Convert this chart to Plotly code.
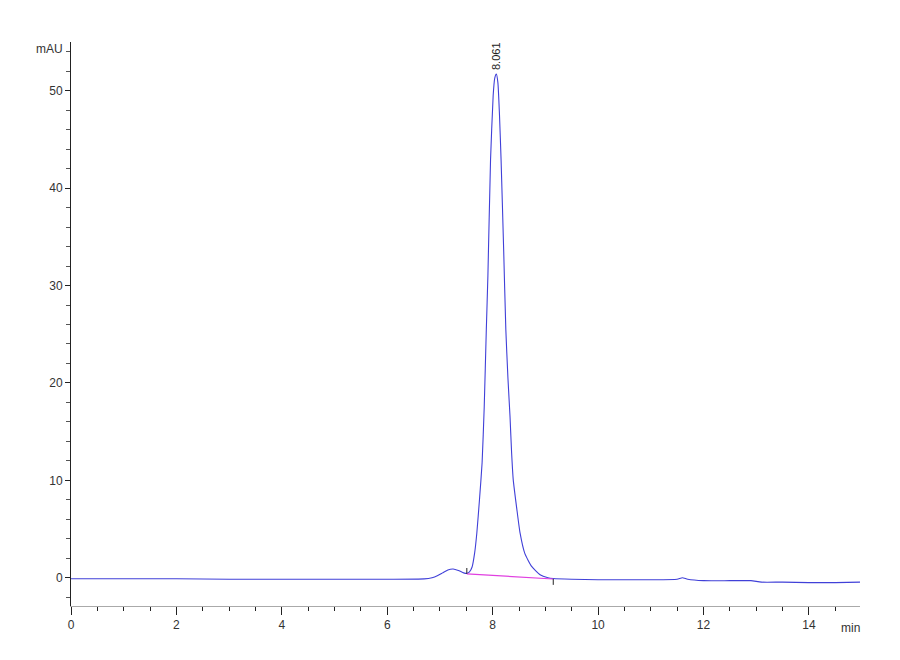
import plotly.graph_objects as go

# retention time (min) and detector signal (mAU)
time_min = [0, 1, 2, 3, 4, 5, 6, 6.7, 6.85, 6.95, 7.05, 7.15, 7.25, 7.35, 7.45, 7.51,
            7.56, 7.61, 7.66, 7.70, 7.75, 7.80, 7.84, 7.88, 7.91, 7.96, 8.01, 8.04,
            8.07, 8.10, 8.13, 8.16, 8.21, 8.25, 8.29, 8.33, 8.36, 8.39, 8.46, 8.52,
            8.61, 8.74, 8.90, 9.05, 9.15, 9.5, 10, 10.5, 11, 11.5, 11.6, 11.7, 12,
            12.5, 12.9, 13.1, 13.5, 14, 14.5, 14.97]
signal_mau = [-0.1, -0.1, -0.1, -0.15, -0.15, -0.15, -0.15, -0.12, 0.0, 0.2, 0.5, 0.8,
              0.9, 0.75, 0.5, 0.45, 0.6, 1.1, 2.6, 4.6, 8.0, 11.8, 17.5, 25.5, 31.0,
              42.9, 49.5, 51.3, 51.7, 50.8, 47.5, 42.9, 33.5, 25.5, 20.5, 16.5, 12.8,
              10.1, 7.0, 4.6, 2.5, 1.16, 0.3, 0.0, -0.08, -0.15, -0.2, -0.2, -0.2,
              -0.15, 0.0, -0.15, -0.3, -0.3, -0.3, -0.45, -0.45, -0.5, -0.5, -0.45]

# integration baseline of the main peak
base_time = [7.51, 9.15]
base_mau = [0.4, -0.13]

peak_rt = 8.061
peak_height = 51.7

font_main = "Liberation Sans Narrow, Liberation Sans, Arial"

fig = go.Figure()

fig.add_trace(go.Scatter(
    x=time_min, y=signal_mau, mode="lines",
    line=dict(color="#4040d8", width=1.1, shape="spline", smoothing=0.5),
    hoverinfo="skip"
))

fig.add_trace(go.Scatter(
    x=base_time, y=base_mau, mode="lines",
    line=dict(color="#e040e0", width=1.2),
    hoverinfo="skip"
))

# small start / end markers of the integration
fig.add_trace(go.Scatter(
    x=[base_time[0], base_time[0], None, base_time[1], base_time[1]],
    y=[base_mau[0], base_mau[0] + 0.6, None, base_mau[1], base_mau[1] - 0.6],
    mode="lines", line=dict(color="#222222", width=1),
    hoverinfo="skip"
))

fig.add_annotation(
    x=peak_rt, y=peak_height, text=str(peak_rt), textangle=-90,
    showarrow=False, xanchor="center", yanchor="bottom", yshift=2,
    font=dict(family=font_main, size=11, color="#222222")
)

fig.add_annotation(
    x=0, xref="paper", y=54.3, text="mAU", showarrow=False,
    xanchor="right", xshift=-6, yanchor="middle",
    font=dict(family=font_main, size=12, color="#333333")
)

fig.add_annotation(
    x=1, xref="paper", y=0, yref="paper", text="min", showarrow=False,
    xanchor="right", yanchor="top", yshift=-13, xshift=2,
    font=dict(family=font_main, size=12, color="#333333")
)

fig.update_xaxes(
    range=[0, 14.97], dtick=2, tick0=0, showgrid=False, zeroline=False,
    showline=True, linecolor="#aaaaaa", linewidth=1,
    ticks="outside", ticklen=8, tickcolor="#222222", tickwidth=1,
    minor=dict(dtick=0.5, ticks="outside", ticklen=4, tickcolor="#222222", showgrid=False),
    tickfont=dict(family=font_main, size=12, color="#333333")
)

fig.update_yaxes(
    range=[-2.9, 55], dtick=10, tick0=0, showgrid=False, zeroline=False,
    showline=True, linecolor="#222222", linewidth=1,
    ticks="outside", ticklen=5, tickcolor="#222222", tickwidth=1,
    minor=dict(dtick=2, ticks="outside", ticklen=4, tickcolor="#555555", showgrid=False),
    tickfont=dict(family=font_main, size=12, color="#333333")
)

# the page body adds 8px, so the margins are shifted to keep the plot area in place
fig.update_layout(
    width=900, height=660,
    showlegend=False,
    plot_bgcolor="white", paper_bgcolor="white",
    margin=dict(l=63, r=48, t=34, b=62)
)

fig.write_html("out.html")
